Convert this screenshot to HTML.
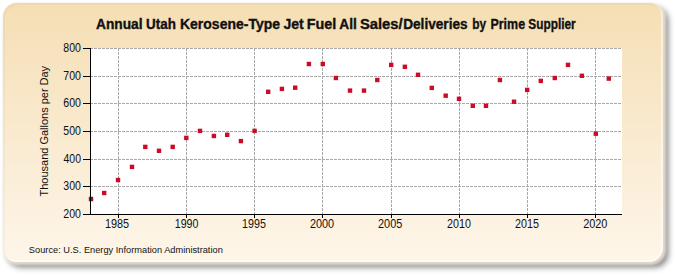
<!DOCTYPE html>
<html><head><meta charset="utf-8"><style>
html,body{margin:0;padding:0;width:675px;height:275px;overflow:hidden;background:#fff;}
#shadow{position:absolute;left:8px;top:8px;width:660px;height:259px;border-radius:13px;background:rgba(0,0,0,0.52);filter:blur(3px);}
#glow{position:absolute;left:3px;top:3px;width:663px;height:262px;border-radius:15px;background:rgba(245,235,220,0.8);filter:blur(1px);}
#box{position:absolute;left:3px;top:3px;width:660px;height:259px;border-radius:14px;filter:blur(0.5px);
background:linear-gradient(to bottom,#f5deb3 0%,#fef6ea 100%);
box-shadow:inset -2px -2px 1px rgba(255,255,255,0.5),inset 2px 2px 0 rgba(150,130,100,0.06);}
svg{position:absolute;left:0;top:0;}
text{font-family:"Liberation Sans",sans-serif;font-size:12px;fill:#111;}
.title{font-weight:bold;fill:#111;stroke:#111;stroke-width:0.3px;}
</style></head><body>
<div id="shadow"></div><div id="glow"></div><div id="box"></div>
<svg width="675" height="275" viewBox="0 0 675 275">
<rect x="90" y="48" width="532" height="166" fill="#ffffff"/>
<line x1="90" y1="48.5" x2="622" y2="48.5" stroke="#a8a8a8" stroke-width="1" stroke-dasharray="3,1"/>
<line x1="90" y1="76.5" x2="622" y2="76.5" stroke="#a8a8a8" stroke-width="1" stroke-dasharray="3,1"/>
<line x1="90" y1="103.5" x2="622" y2="103.5" stroke="#a8a8a8" stroke-width="1" stroke-dasharray="3,1"/>
<line x1="90" y1="131.5" x2="622" y2="131.5" stroke="#a8a8a8" stroke-width="1" stroke-dasharray="3,1"/>
<line x1="90" y1="159.5" x2="622" y2="159.5" stroke="#a8a8a8" stroke-width="1" stroke-dasharray="3,1"/>
<line x1="90" y1="186.5" x2="622" y2="186.5" stroke="#a8a8a8" stroke-width="1" stroke-dasharray="3,1"/>
<line x1="118.5" y1="48" x2="118.5" y2="214" stroke="#a8a8a8" stroke-width="1" stroke-dasharray="3,1"/>
<line x1="186.5" y1="48" x2="186.5" y2="214" stroke="#a8a8a8" stroke-width="1" stroke-dasharray="3,1"/>
<line x1="254.5" y1="48" x2="254.5" y2="214" stroke="#a8a8a8" stroke-width="1" stroke-dasharray="3,1"/>
<line x1="322.5" y1="48" x2="322.5" y2="214" stroke="#a8a8a8" stroke-width="1" stroke-dasharray="3,1"/>
<line x1="391.5" y1="48" x2="391.5" y2="214" stroke="#a8a8a8" stroke-width="1" stroke-dasharray="3,1"/>
<line x1="459.5" y1="48" x2="459.5" y2="214" stroke="#a8a8a8" stroke-width="1" stroke-dasharray="3,1"/>
<line x1="527.5" y1="48" x2="527.5" y2="214" stroke="#a8a8a8" stroke-width="1" stroke-dasharray="3,1"/>
<line x1="595.5" y1="48" x2="595.5" y2="214" stroke="#a8a8a8" stroke-width="1" stroke-dasharray="3,1"/>
<line x1="83" y1="48.5" x2="91" y2="48.5" stroke="#000" stroke-width="1"/>
<line x1="83" y1="76.5" x2="91" y2="76.5" stroke="#000" stroke-width="1"/>
<line x1="83" y1="103.5" x2="91" y2="103.5" stroke="#000" stroke-width="1"/>
<line x1="83" y1="131.5" x2="91" y2="131.5" stroke="#000" stroke-width="1"/>
<line x1="83" y1="159.5" x2="91" y2="159.5" stroke="#000" stroke-width="1"/>
<line x1="83" y1="186.5" x2="91" y2="186.5" stroke="#000" stroke-width="1"/>
<line x1="83" y1="214.5" x2="91" y2="214.5" stroke="#000" stroke-width="1"/>
<line x1="118.5" y1="214" x2="118.5" y2="218" stroke="#000" stroke-width="1"/>
<line x1="186.5" y1="214" x2="186.5" y2="218" stroke="#000" stroke-width="1"/>
<line x1="254.5" y1="214" x2="254.5" y2="218" stroke="#000" stroke-width="1"/>
<line x1="322.5" y1="214" x2="322.5" y2="218" stroke="#000" stroke-width="1"/>
<line x1="391.5" y1="214" x2="391.5" y2="218" stroke="#000" stroke-width="1"/>
<line x1="459.5" y1="214" x2="459.5" y2="218" stroke="#000" stroke-width="1"/>
<line x1="527.5" y1="214" x2="527.5" y2="218" stroke="#000" stroke-width="1"/>
<line x1="595.5" y1="214" x2="595.5" y2="218" stroke="#000" stroke-width="1"/>
<rect x="88.80" y="196.80" width="4.4" height="4.4" fill="#8e1522"/>
<rect x="102.00" y="190.80" width="4.4" height="4.4" fill="#ca0c26"/>
<rect x="115.80" y="177.80" width="4.4" height="4.4" fill="#ca0c26"/>
<rect x="129.80" y="164.70" width="4.4" height="4.4" fill="#ca0c26"/>
<rect x="143.10" y="144.70" width="4.4" height="4.4" fill="#ca0c26"/>
<rect x="156.80" y="148.60" width="4.4" height="4.4" fill="#ca0c26"/>
<rect x="170.50" y="144.70" width="4.4" height="4.4" fill="#ca0c26"/>
<rect x="184.10" y="135.70" width="4.4" height="4.4" fill="#ca0c26"/>
<rect x="197.80" y="128.70" width="4.4" height="4.4" fill="#ca0c26"/>
<rect x="211.70" y="133.80" width="4.4" height="4.4" fill="#ca0c26"/>
<rect x="225.00" y="132.60" width="4.4" height="4.4" fill="#ca0c26"/>
<rect x="238.70" y="138.90" width="4.4" height="4.4" fill="#ca0c26"/>
<rect x="252.40" y="128.70" width="4.4" height="4.4" fill="#ca0c26"/>
<rect x="266.00" y="89.60" width="4.4" height="4.4" fill="#ca0c26"/>
<rect x="279.70" y="86.70" width="4.4" height="4.4" fill="#ca0c26"/>
<rect x="293.00" y="85.50" width="4.4" height="4.4" fill="#ca0c26"/>
<rect x="306.70" y="61.80" width="4.4" height="4.4" fill="#ca0c26"/>
<rect x="320.60" y="61.80" width="4.4" height="4.4" fill="#ca0c26"/>
<rect x="333.70" y="75.80" width="4.4" height="4.4" fill="#ca0c26"/>
<rect x="347.80" y="88.40" width="4.4" height="4.4" fill="#ca0c26"/>
<rect x="361.80" y="88.40" width="4.4" height="4.4" fill="#ca0c26"/>
<rect x="375.10" y="77.80" width="4.4" height="4.4" fill="#ca0c26"/>
<rect x="389.00" y="62.70" width="4.4" height="4.4" fill="#ca0c26"/>
<rect x="402.70" y="64.60" width="4.4" height="4.4" fill="#ca0c26"/>
<rect x="415.80" y="72.60" width="4.4" height="4.4" fill="#ca0c26"/>
<rect x="429.60" y="85.70" width="4.4" height="4.4" fill="#ca0c26"/>
<rect x="443.50" y="93.50" width="4.4" height="4.4" fill="#ca0c26"/>
<rect x="456.80" y="96.60" width="4.4" height="4.4" fill="#ca0c26"/>
<rect x="470.60" y="103.60" width="4.4" height="4.4" fill="#ca0c26"/>
<rect x="483.80" y="103.60" width="4.4" height="4.4" fill="#ca0c26"/>
<rect x="497.70" y="77.80" width="4.4" height="4.4" fill="#ca0c26"/>
<rect x="511.80" y="99.50" width="4.4" height="4.4" fill="#ca0c26"/>
<rect x="525.00" y="87.70" width="4.4" height="4.4" fill="#ca0c26"/>
<rect x="538.60" y="78.70" width="4.4" height="4.4" fill="#ca0c26"/>
<rect x="552.60" y="75.80" width="4.4" height="4.4" fill="#ca0c26"/>
<rect x="565.80" y="62.70" width="4.4" height="4.4" fill="#ca0c26"/>
<rect x="579.70" y="73.60" width="4.4" height="4.4" fill="#ca0c26"/>
<rect x="593.60" y="131.50" width="4.4" height="4.4" fill="#ca0c26"/>
<rect x="606.60" y="76.40" width="4.4" height="4.4" fill="#ca0c26"/>
<line x1="90.5" y1="48" x2="90.5" y2="215" stroke="#000" stroke-width="1"/>
<line x1="90" y1="214.5" x2="622" y2="214.5" stroke="#000" stroke-width="1"/>
<text class="title" transform="matrix(1.1443 0 0 1.1807 96.057 28.700)">Annual</text>
<text class="title" transform="matrix(1.1190 0 0 1.1807 146.017 28.700)">Utah</text>
<text class="title" transform="matrix(1.1667 0 0 1.1807 179.967 28.700)">Kerosene-Type</text>
<text class="title" transform="matrix(1.1706 0 0 1.1807 283.466 28.700)">Jet</text>
<text class="title" transform="matrix(1.2000 0 0 1.1807 306.640 28.700)">Fuel</text>
<text class="title" transform="matrix(1.1408 0 0 1.1807 339.258 28.700)">All</text>
<text class="title" transform="matrix(1.2339 0 0 1.1807 359.906 28.700)">Sales/</text>
<text class="title" transform="matrix(1.1372 0 0 1.1807 403.190 28.700)">Deliveries</text>
<text class="title" transform="matrix(0.9924 0 0 1.1807 472.206 28.700)">by</text>
<text class="title" transform="matrix(1.0374 0 0 1.1807 490.470 28.700)">Prime</text>
<text class="title" transform="matrix(0.9873 0 0 1.1807 528.305 28.700)">Supplier</text>
<text class="src" transform="matrix(0.7729 0 0 0.7952 28.836 252.500)">Source: U.S. Energy Information Administration</text>
<text class="tl" transform="matrix(0.8796 0 0 1.0482 63.360 52.000)">800</text>
<text class="tl" transform="matrix(0.8842 0 0 1.0482 63.269 80.000)">700</text>
<text class="tl" transform="matrix(0.8842 0 0 1.0482 63.269 107.000)">600</text>
<text class="tl" transform="matrix(0.8796 0 0 1.0482 63.360 135.000)">500</text>
<text class="tl" transform="matrix(0.8705 0 0 1.0482 63.539 163.000)">400</text>
<text class="tl" transform="matrix(0.8796 0 0 1.0482 63.360 190.000)">300</text>
<text class="tl" transform="matrix(0.8842 0 0 1.0482 63.269 218.000)">200</text>
<text class="tl" transform="matrix(0.9051 0 0 1.0482 104.985 227.600)">1985</text>
<text class="tl" transform="matrix(0.8893 0 0 1.0482 174.700 227.600)">1990</text>
<text class="tl" transform="matrix(0.8933 0 0 1.0482 242.096 227.600)">1995</text>
<text class="tl" transform="matrix(0.9063 0 0 1.0482 309.956 227.600)">2000</text>
<text class="tl" transform="matrix(0.9102 0 0 1.0482 378.054 227.600)">2005</text>
<text class="tl" transform="matrix(0.8945 0 0 1.0482 447.063 227.600)">2010</text>
<text class="tl" transform="matrix(0.8945 0 0 1.0482 515.063 227.600)">2015</text>
<text class="tl" transform="matrix(0.9102 0 0 1.0482 583.154 227.600)">2020</text>
<text class="yt" transform="matrix(0 -0.9157 0.9759 0 47.600 196.475)">Thousand Gallons per Day</text>
</svg>
</body></html>
